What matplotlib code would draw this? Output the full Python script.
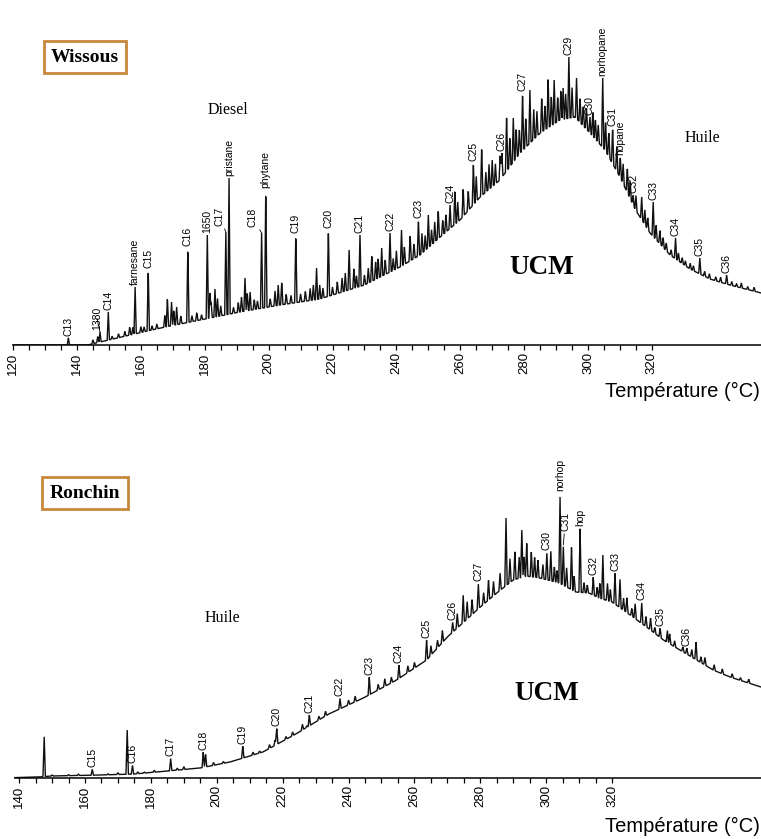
import numpy as np
import matplotlib
matplotlib.use('Agg')
import matplotlib.pyplot as plt

# ---------------- Wissous (top) ----------------
# UCM hump: temperature (°C) -> response (arbitrary units)
wis_hump_t = [120, 143.4, 147.2, 156.6, 167.6, 178.5, 191.0, 203.6, 216.0, 230.0,
              241.1, 247.4, 253.7, 259.9, 266.2, 272.4, 278.7, 285.0, 291.2,
              295.9, 300.6, 305.3, 310.0, 314.7, 319.4, 325.7, 331.9, 338.2,
              344.4, 354.2]
wis_hump_h = [0, 0, 3, 10, 18, 25, 33, 40, 46, 60, 78, 90, 108, 125, 148, 165,
              192, 212, 225, 228, 212, 195, 168, 136, 112, 90, 76, 66, 60, 52]

# resolved peaks: name ('' = unlabelled), temperature, apex response
wis_peak_names = ['C13', '1380', 'C14', 'farnesane', 'C15', '', '', '', 'C16',
                  '1650', '', '', 'C17', 'pristane', '', '', 'C18', 'phytane',
                  '', '', 'C19', '', 'C20', '', '', 'C21', '', '', 'C22', '',
                  '', 'C23', '', '', 'C24', '', '', 'C25', '', '', 'C26', '',
                  '', 'C27', '', '', '', '', 'C29', '', 'C30', '', 'norhopane',
                  'C31', 'hopane', 'C32', '', 'C33', '', 'C34', 'C35', 'C36']
wis_peak_t = [137.3, 147.2, 149.8, 158.2, 162.3, 168.3, 169.6, 171.2, 174.7,
              180.8, 181.6, 183.2, 186.6, 187.6, 192.6, 194.2, 197.8, 199.1,
              203.0, 204.1, 208.5, 215.0, 218.7, 225.2, 226.7, 228.6, 232.3,
              235.4, 238.0, 241.6, 244.3, 246.9, 250.0, 253.1, 256.8, 258.3,
              260.9, 264.1, 266.7, 270.0, 273.0, 274.5, 276.6, 279.5, 281.8,
              287.5, 289.4, 292.2, 294.0, 296.4, 300.6, 303.2, 304.6, 307.7,
              310.1, 314.1, 316.8, 320.4, 322.5, 327.4, 335.0, 343.4]
wis_peak_h = [7, 13, 33, 58, 75, 47, 43, 38, 97, 110, 52, 56, 113, 167, 67, 53,
              112, 155, 60, 63, 110, 77, 115, 95, 77, 110, 90, 97, 112, 115, 110,
              125, 130, 135, 140, 155, 157, 182, 198, 185, 192, 230, 227, 252,
              255, 268, 265, 257, 288, 267, 228, 220, 267, 217, 188, 150, 148,
              143, 115, 107, 87, 70]

# unresolved small peaks riding on the hump: temperature, height above hump
wis_minor_t = [145, 146.5, 151, 153, 155, 156.5, 157.5, 160, 161, 163.5, 165,
               167.5, 170.3, 172.5, 176, 177.5, 179, 182, 184, 185, 189, 190.5,
               191.5, 193.3, 195.5, 196.5, 200.5, 202, 205.5, 207, 210, 211.5,
               213, 214, 216, 217, 220, 221.5, 223, 224, 227.5, 230, 231.2,
               233.5, 234.3, 236.5, 239, 240, 242.5, 245.5, 248, 249, 251, 252,
               254.5, 255.5, 259.2, 262.5, 265, 268, 269, 271, 272.5, 275.5,
               277.5, 278.5, 280.5, 283, 284, 285.5, 286.5, 288.5, 290.5,
               291.5, 293, 295, 297.5, 298.5, 299.5, 301.5, 302.3, 305.5,
               306.5, 309, 311, 312.3, 313.2, 315, 317.8, 318.7, 321.3, 323.5,
               324.5, 326, 328.3, 329.5, 330.5, 332, 333, 336.5, 338, 340,
               341.5, 345, 346.5, 348, 350, 352]
wis_minor_h = [4, 6, 3, 4, 5, 8, 7, 6, 5, 4, 5, 12, 15, 8, 6, 8, 5, 15, 18, 10,
               6, 10, 15, 18, 10, 8, 8, 15, 10, 8, 8, 10, 12, 15, 14, 10, 8, 12,
               14, 18, 12, 10, 15, 18, 20, 15, 12, 18, 18, 15, 20, 15, 15, 20,
               15, 18, 20, 20, 25, 20, 25, 20, 25, 30, 30, 25, 30, 30, 25, 35,
               25, 30, 25, 30, 25, 30, 25, 20, 22, 25, 20, 30, 25, 25, 20, 25,
               18, 15, 15, 12, 15, 10, 8, 6, 8, 6, 5, 6, 5, 5, 5, 4, 5, 4, 3, 5,
               3, 4]

# ---------------- Ronchin (bottom) ----------------
ron_hump_t = [134, 146, 150, 165, 175, 185, 195, 204, 214, 224, 234, 244.5,
              254.6, 263.7, 270, 280, 285, 290, 294, 298, 304, 309, 313, 316,
              320, 325.5, 330.5, 335.6, 340.6, 345.7, 350.7, 355.8, 365.2]
ron_hump_h = [0, 1, 2, 3, 4, 7, 10, 16, 26, 44, 64, 80, 98, 118, 141, 171, 185,
              198, 202, 200, 195, 186, 185, 180, 176, 163, 151, 138, 128, 118,
              108, 101, 91]

ron_peak_names = ['', 'C15', '', 'C16', 'C17', 'C18', '', 'C19', '', 'C20', '',
                  'C21', 'C22', 'C23', 'C24', 'C25', 'C26', '', 'C27', '', '',
                  '', 'C30', '', 'norhop', 'C31', '', 'hop', 'C32', '', 'C33',
                  '', '', 'C34', 'C35', '', 'C36', '']
ron_peak_t = [147.6, 162.2, 172.8, 174.4, 186.0, 195.9, 196.6, 207.9, 217.7,
              218.2, 227.3, 228.1, 237.4, 246.3, 255.3, 263.7, 271.6, 274.8,
              279.4, 287.8, 292.6, 294.1, 300.2, 301.4, 304.2, 305.2, 307.7,
              310.3, 314.3, 317.2, 320.9, 322.4, 327.0, 329.0, 334.6, 336.8,
              342.7, 345.5]
ron_peak_h = [43, 9, 50, 13, 20, 26, 24, 32, 38, 50, 52, 63, 80, 101, 113, 138,
              156, 184, 195, 263, 250, 235, 226, 228, 285, 233, 231, 250, 201,
              225, 205, 200, 175, 176, 150, 148, 130, 136]

ron_minor_t = [150, 155, 158, 167, 170, 176, 178, 181, 188, 190, 199, 202, 211,
               213, 216, 221, 223, 226, 231, 233, 240, 242, 249, 251, 253, 258,
               260, 265, 267, 268.5, 273, 276, 277.5, 281, 282.5, 284, 286, 289,
               290.5, 291.8, 293.3, 295.5, 296.5, 297.5, 299, 302.5, 303.3,
               306.2, 308.5, 311.5, 312.5, 315.5, 316.3, 318.6, 319.5, 323.5,
               324.5, 326, 330.3, 331.7, 333, 337.5, 339, 341.5, 344.2, 347,
               348.2, 351, 353.5, 356.5, 359, 361.5]
ron_minor_h = [1, 1, 1.5, 1, 2, 2, 1, 2, 2, 3, 3, 2, 3, 2, 4, 3, 4, 6, 4, 5, 5,
               6, 6, 8, 6, 7, 6, 10, 8, 12, 15, 18, 15, 12, 20, 15, 18, 25, 28,
               22, 20, 25, 20, 18, 15, 15, 12, 20, 15, 10, 8, 10, 15, 18, 12,
               12, 15, 8, 10, 12, 6, 10, 6, 5, 8, 6, 8, 6, 5, 4, 3, 4]

W, H = 761, 839
SERIF = 'Liberation Serif'
SANS = 'Liberation Sans'
BOX_EDGE = '#C8873A'
TRACE = '#111111'


def trace(t0, t1, hump_t, hump_h, peak_t, peak_h, minor_t, minor_h, hw=0.36):
    x = np.arange(t0, t1, 0.04)
    y = np.interp(x, hump_t, hump_h)
    apex_extra = np.array(peak_h) - np.interp(peak_t, hump_t, hump_h)
    for t, h in list(zip(peak_t, apex_extra)) + list(zip(minor_t, minor_h)):
        y += max(h, 0) * np.clip(1 - np.abs(x - t) / hw, 0, None)
    return x, y


def panel(ax, xlim, first_tick, spine_start, ymax, x, y, names, peak_t,
          peak_h, offsets):
    ax.plot(x, y, color=TRACE, lw=1.0, solid_joinstyle='miter')
    for s in ['left', 'right', 'top']:
        ax.spines[s].set_visible(False)
    ax.set_yticks([])
    ax.set_xticks(np.arange(first_tick, 321, 20))
    ax.set_xticks(np.arange(first_tick, 321, 5), minor=True)
    ax.set_xlim(*xlim)
    ax.set_ylim(0, ymax)
    ax.spines['bottom'].set_bounds(spine_start, xlim[1])
    ax.spines['bottom'].set_linewidth(1.1)
    ax.tick_params(axis='x', which='both', direction='out', length=3.8,
                   width=0.9, pad=1.5)
    ax.tick_params(axis='x', which='major', labelsize=9.5, labelrotation=90)
    for lab in ax.get_xticklabels():
        lab.set_family(SANS)
    for name, t, h in zip(names, peak_t, peak_h):
        if not name:
            continue
        dx, dy = offsets.get(name, (0, 0))
        ax.annotate(name, xy=(t, h), xytext=(dx * 0.72, (2 + dy) * 0.72),
                    textcoords='offset points', rotation=90, ha='center',
                    va='bottom', fontsize=7.5, family=SANS,
                    arrowprops=dict(arrowstyle='-', lw=0.6, shrinkA=0,
                                    shrinkB=0) if dx else None)


fig = plt.figure(figsize=(W / 100, H / 100), dpi=100)

# top panel: axis line at y=345 px, 3.194 px per °C, 140 °C at x=77 px
top_xlim = (140 - 77 / 3.194, 140 + (W - 77) / 3.194)
ax1 = fig.add_axes([0, (H - 345) / H, 1, 345 / H])
x1, y1 = trace(120, top_xlim[1], wis_hump_t, wis_hump_h, wis_peak_t,
               wis_peak_h, wis_minor_t, wis_minor_h)
panel(ax1, top_xlim, 120, 120, 345, x1, y1, wis_peak_names, wis_peak_t,
      wis_peak_h, {'1380': (-3, 0), 'C17': (-6, 4), 'C18': (-9, 4)})

# bottom panel: axis line at y=778 px, 3.294 px per °C, 160 °C at x=85 px
bot_xlim = (160 - 85 / 3.294, 160 + (W - 85) / 3.294)
ax2 = fig.add_axes([0, (H - 778) / H, 1, 358 / H])
x2, y2 = trace(bot_xlim[0] + 4.5, bot_xlim[1], ron_hump_t, ron_hump_h,
               ron_peak_t, ron_peak_h, ron_minor_t, ron_minor_h)
panel(ax2, bot_xlim, 140, bot_xlim[0] + 4.5, 358, x2, y2, ron_peak_names,
      ron_peak_t, ron_peak_h, {'C31': (2, 12)})

box = dict(boxstyle='square,pad=0.38', fc='white', ec=BOX_EDGE, lw=2)
ax1.text(142.5, 288, 'Wissous', family=SERIF, weight='bold', fontsize=14,
         ha='center', va='center', bbox=box)
ax2.text(160.0, 285, 'Ronchin', family=SERIF, weight='bold', fontsize=14,
         ha='center', va='center', bbox=box)

ax1.text(187.3, 235, 'Diesel', family=SERIF, fontsize=11.5, ha='center',
         va='center')
ax1.text(335.7, 207, 'Huile', family=SERIF, fontsize=11.5, ha='center',
         va='center')
ax2.text(201.6, 160, 'Huile', family=SERIF, fontsize=11.5, ha='center',
         va='center')
ax1.text(285.6, 78, 'UCM', family=SERIF, weight='bold', fontsize=19.5,
         ha='center', va='center')
ax2.text(300.3, 85, 'UCM', family=SERIF, weight='bold', fontsize=19.5,
         ha='center', va='center')

fig.text(0.999, 1 - 391 / H, 'Température (°C)', family=SANS, fontsize=14.5,
         ha='right', va='center')
fig.text(0.999, 1 - 826 / H, 'Température (°C)', family=SANS, fontsize=14.5,
         ha='right', va='center')

fig.savefig('out.png', dpi=100, facecolor='white')
